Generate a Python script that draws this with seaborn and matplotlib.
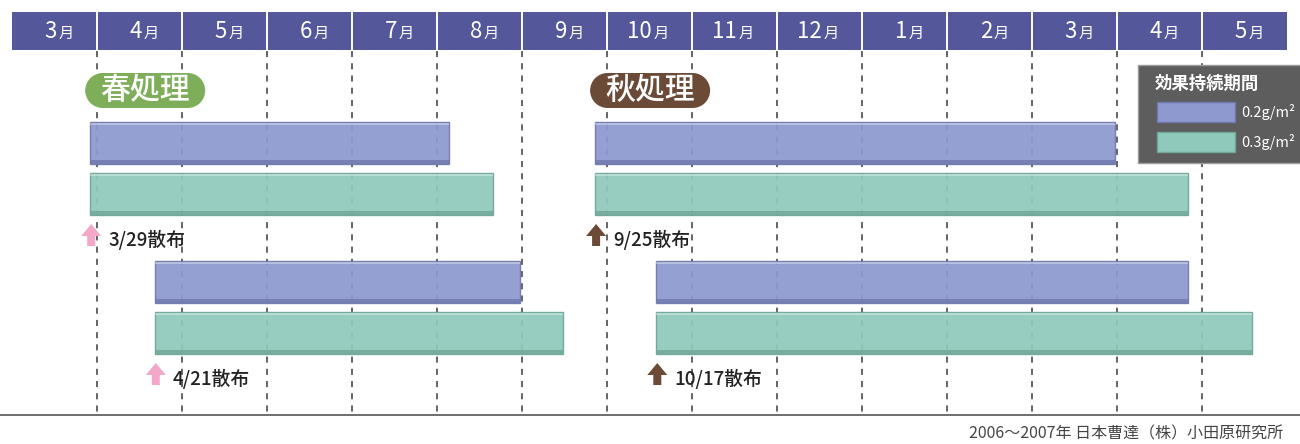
import matplotlib
matplotlib.use("Agg")
import matplotlib.pyplot as plt
from matplotlib.patches import Rectangle, FancyBboxPatch, Polygon
import seaborn as sns
import pandas as pd

sns.set_theme(style="white")
plt.rcParams['font.family'] = ['Noto Sans CJK JP', 'DejaVu Sans']

# month header, March 2006 .. May 2007
months = ['3', '4', '5', '6', '7', '8', '9', '10', '11', '12', '1', '2', '3', '4', '5']

# treatments and spray dates (positions in month units from start of March)
treatments = ['春処理', '秋処理']
spray_dates = ['3/29', '4/21', '9/25', '10/17']
spray_group = ['春処理', '春処理', '秋処理', '秋処理']
spray_start = [0.92, 1.68, 6.86, 7.58]
end_02 = [5.14, 5.98, 12.98, 13.84]
end_03 = [5.66, 6.48, 13.84, 14.59]

doses = ['0.2g/m²', '0.3g/m²']
legend_title = '効果持続期間'
footer = '2006～2007年 日本曹達（株）小田原研究所'

df = pd.DataFrame({'date': spray_dates, 'group': spray_group,
                   'start': spray_start, 'end02': end_02, 'end03': end_03})

bar_colors = {'0.2g/m²': '#8d99cf', '0.3g/m²': '#8fc9bb'}
bar_edges = {'0.2g/m²': '#6f78ad', '0.3g/m²': '#6ea697'}
group_colors = {'春処理': '#7fae5b', '秋処理': '#6b4b38'}
arrow_colors = {'春処理': '#f3a8c9', '秋処理': '#6b4b38'}

W, H = 1300, 444
X0, MW = 12, 85  # pixel of March start, pixels per month


def px(x):
    return (x - X0) / MW


fig = plt.figure(figsize=(W / 100, H / 100), dpi=100)
fig.patch.set_facecolor('white')
ax = fig.add_axes([0, 0, 1, 1])
ax.set_xlim(px(0), px(W))
ax.set_ylim(H, 0)
ax.axis('off')

# overlay in pixel units for rounded label boxes and arrows
ov = fig.add_axes([0, 0, 1, 1], zorder=3)
ov.set_xlim(0, W)
ov.set_ylim(H, 0)
ov.axis('off')
ov.patch.set_alpha(0)

# header band
ax.add_patch(Rectangle((0, 12), len(months), 38, facecolor='#55579b', edgecolor='none', zorder=1))
for i, m in enumerate(months):
    ax.text(i + 0.5 + 0.03, 31, m, ha='right', va='center', color='white', fontsize=16, zorder=3)
    ax.text(i + 0.5 + 0.05, 33, '月', ha='left', va='center', color='white', fontsize=11, zorder=3)
for i in range(1, len(months)):
    ax.plot([i, i], [12, 50], color='white', lw=1.4, zorder=2)
    ax.plot([i, i], [51, 415], color='#3a3a3a', lw=1.1, ls=(0, (4, 4)), zorder=1)

# bottom rule and footer
ax.plot([px(0), px(W)], [415, 415], color='#555555', lw=1.2, zorder=1)
ax.text(px(1283), 434, footer, ha='right', va='center', color='#444444', fontsize=11.5)

# treatment labels (pill boxes)
for g in treatments:
    left = X0 + MW * df[df.group == g].start.min() - 5
    c = group_colors[g]
    ov.add_patch(Rectangle((left + 17, 73), 86, 35, facecolor=c, edgecolor='none'))
    ov.add_patch(plt.Circle((left + 17.5, 90.5), 17.5, color=c, lw=0))
    ov.add_patch(plt.Circle((left + 102.5, 90.5), 17.5, color=c, lw=0))
    ov.text(left + 60, 90, g, ha='center', va='center', color='white', fontsize=21.5,
            fontweight='medium')

# bars
bh = 42
for g in treatments:
    sub = df[df.group == g].reset_index(drop=True)
    for k, row in sub.iterrows():
        y02 = 143 + 139 * k
        y03 = 194 + 139 * k
        for y, end, d in [(y02, row.end02, doses[0]), (y03, row.end03, doses[1])]:
            ax.barh(y, end - row.start, left=row.start, height=bh, color=bar_colors[d],
                    edgecolor=bar_edges[d], lw=1.0, alpha=0.93, zorder=2)
            ax.barh(y + bh / 2 - 2.5, end - row.start, left=row.start, height=4,
                    color=bar_edges[d], edgecolor='none', alpha=0.8, zorder=2.1)
            ax.barh(y - bh / 2 + 1.5, end - row.start, left=row.start, height=2,
                    color='white', edgecolor='none', alpha=0.35, zorder=2.1)
        ly = 239 + 139 * k
        cx = X0 + MW * row.start + 1
        top = ly - 15
        ov.add_patch(Polygon([(cx, top), (cx + 10, top + 12), (cx + 4, top + 12), (cx + 4, top + 22),
                              (cx - 4, top + 22), (cx - 4, top + 12), (cx - 10, top + 12)],
                             closed=True, facecolor=arrow_colors[g], edgecolor='none'))
        ax.text(row.start + 0.21, ly + 1, row.date + '散布', ha='left', va='center',
                color='#222222', fontsize=13.5, fontweight='medium', zorder=3)

# legend box
lx, ly0 = px(1138), 65
ax.add_patch(Rectangle((lx, ly0), px(1305) - lx, 98, facecolor='#5d5d5d', edgecolor='#9a9a9a',
                       lw=1.0, zorder=4))
ax.text(px(1155), 84, legend_title, ha='left', va='center', color='white', fontsize=12.5,
        fontweight='bold', zorder=5)
for j, d in enumerate(doses):
    yy = 112 + 30 * j
    ax.add_patch(Rectangle((px(1157), yy - 10), px(1235) - px(1157), 20, facecolor=bar_colors[d],
                           edgecolor=bar_edges[d], lw=1, zorder=5))
    ax.text(px(1241), yy, d, ha='left', va='center', color='white', fontsize=10.5, zorder=5)

fig.savefig('out.png', dpi=100, facecolor='white')
